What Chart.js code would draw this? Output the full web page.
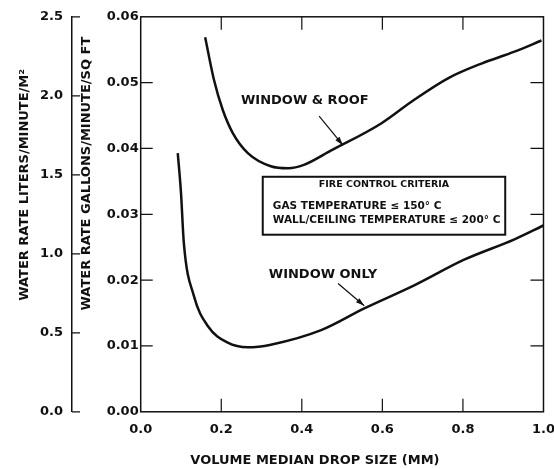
<!DOCTYPE html>
<html>
<head>
<meta charset="utf-8">
<script src="https://cdn.jsdelivr.net/npm/chart.js@4.4.1/dist/chart.umd.min.js"></script>
<style>
  html, body { margin: 0; padding: 0; background: #fff; overflow: hidden; }
  /* a bit wider than the window: the last x label is cut off at the edge, as in the scan */
  #wrap { width: 565px; height: 469px; }
</style>
</head>
<body>
<div id="wrap"><canvas id="chart1"></canvas></div>
<script>
// curves (drop size mm, gallons/minute/sq ft)
const roofX = [0.16, 0.182, 0.204, 0.229, 0.266, 0.323, 0.366, 0.405, 0.473, 0.597, 0.679, 0.764, 0.846, 0.928, 0.995];
const roofY = [0.0569, 0.0504, 0.0458, 0.0423, 0.0393, 0.0373, 0.0370, 0.0375, 0.0397, 0.0438, 0.0474, 0.0507, 0.0529, 0.0547, 0.0564];
const onlyX = [0.092, 0.100, 0.107, 0.132, 0.167, 0.216, 0.266, 0.323, 0.448, 0.555, 0.679, 0.803, 0.928, 1.0];
const onlyY = [0.0393, 0.0333, 0.0257, 0.0176, 0.0130, 0.0105, 0.0098, 0.0102, 0.0124, 0.0157, 0.0192, 0.0231, 0.0262, 0.0283];

const seriesNames = ['WINDOW & ROOF', 'WINDOW ONLY'];
const boxLines = ['FIRE CONTROL CRITERIA', 'GAS TEMPERATURE \u2264 150\u00b0 C', 'WALL/CEILING TEMPERATURE \u2264 200\u00b0 C'];

// titles sit off-centre in the original, padded with spaces to shift them
const xTitle = 'VOLUME MEDIAN DROP SIZE (MM)' + '\u00a0'.repeat(12);
const yTitle = '\u00a0'.repeat(18) + 'WATER RATE GALLONS/MINUTE/SQ FT';
const ylTitle = '\u00a0'.repeat(13) + 'WATER RATE LITERS/MINUTE/M\u00b2';

const FONT = '"DejaVu Sans", "Liberation Sans", Arial, sans-serif';

function pts(xs, ys) {
  return xs.map((v, i) => ({ x: v, y: ys[i] }));
}

function arrow(ctx, x1, y1, x2, y2) {
  const ang = Math.atan2(y2 - y1, x2 - x1);
  ctx.beginPath();
  ctx.moveTo(x1, y1);
  ctx.lineTo(x2, y2);
  ctx.stroke();
  ctx.beginPath();
  ctx.moveTo(x2, y2);
  ctx.lineTo(x2 - 9 * Math.cos(ang - 0.3), y2 - 9 * Math.sin(ang - 0.3));
  ctx.lineTo(x2 - 9 * Math.cos(ang + 0.3), y2 - 9 * Math.sin(ang + 0.3));
  ctx.closePath();
  ctx.fill();
}

// frame, inward ticks, labels and criteria box
const extras = {
  id: 'extras',
  afterDraw(chart) {
    const ctx = chart.ctx;
    const a = chart.chartArea;
    const x = chart.scales.x, y = chart.scales.y, yl = chart.scales.yl;
    const eps = 1e-9;
    ctx.save();
    ctx.strokeStyle = '#111';
    ctx.fillStyle = '#111';
    ctx.lineWidth = 1.5;
    ctx.strokeRect(a.left, a.top, a.right - a.left, a.bottom - a.top);

    ctx.lineWidth = 1.2;
    ctx.beginPath();
    x.ticks.forEach(t => {
      if (t.value <= x.min + eps || t.value >= x.max - eps) return;
      const px = x.getPixelForValue(t.value);
      ctx.moveTo(px, a.bottom); ctx.lineTo(px, a.bottom - 13);
      ctx.moveTo(px, a.top); ctx.lineTo(px, a.top + 13);
    });
    y.ticks.forEach(t => {
      if (t.value <= y.min + eps || t.value >= y.max - eps) return;
      const py = y.getPixelForValue(t.value);
      ctx.moveTo(a.left, py); ctx.lineTo(a.left + 12, py);
      ctx.moveTo(a.right, py); ctx.lineTo(a.right - 13, py);
    });
    yl.ticks.forEach(t => {
      const py = yl.getPixelForValue(t.value);
      ctx.moveTo(yl.right, py); ctx.lineTo(yl.right + 8, py);
    });
    ctx.stroke();

    // curve labels
    ctx.font = 'bold 13px ' + FONT;
    ctx.textBaseline = 'middle';
    ctx.textAlign = 'left';
    ctx.fillText(seriesNames[0], x.getPixelForValue(0.249), y.getPixelForValue(0.0472));
    ctx.fillText(seriesNames[1], x.getPixelForValue(0.318), y.getPixelForValue(0.0209));
    ctx.lineWidth = 1.2;
    arrow(ctx, x.getPixelForValue(0.443), y.getPixelForValue(0.0449), x.getPixelForValue(0.502), y.getPixelForValue(0.0405));
    arrow(ctx, x.getPixelForValue(0.490), y.getPixelForValue(0.0195), x.getPixelForValue(0.555), y.getPixelForValue(0.0161));

    // criteria box
    const bl = x.getPixelForValue(0.303), br = x.getPixelForValue(0.905);
    const bt = y.getPixelForValue(0.0357), bb = y.getPixelForValue(0.0269);
    ctx.lineWidth = 2;
    ctx.strokeRect(bl, bt, br - bl, bb - bt);
    ctx.font = 'bold 9.5px ' + FONT;
    ctx.textAlign = 'center';
    ctx.fillText(boxLines[0], x.getPixelForValue(0.604), y.getPixelForValue(0.0345));
    ctx.font = 'bold 10.5px ' + FONT;
    ctx.textAlign = 'left';
    ctx.fillText(boxLines[1], x.getPixelForValue(0.328), y.getPixelForValue(0.0312));
    ctx.fillText(boxLines[2], x.getPixelForValue(0.328), y.getPixelForValue(0.0291));
    ctx.restore();
  }
};

const tickFont = { family: FONT, size: 13, weight: 'bold' };
const titleFont = { family: FONT, size: 13, weight: 'bold' };

new Chart(document.getElementById('chart1'), {
  type: 'line',
  data: {
    datasets: [{
      label: seriesNames[0],
      data: pts(roofX, roofY),
      borderColor: '#111',
      borderWidth: 2.5,
      pointRadius: 0,
      fill: false,
      cubicInterpolationMode: 'monotone'
    }, {
      label: seriesNames[1],
      data: pts(onlyX, onlyY),
      borderColor: '#111',
      borderWidth: 2.5,
      pointRadius: 0,
      fill: false,
      cubicInterpolationMode: 'monotone'
    }]
  },
  options: {
    responsive: true,
    maintainAspectRatio: false,
    animation: false,
    layout: { autoPadding: false, padding: { top: 15, right: 0, left: 0, bottom: 0 } },
    plugins: { legend: { display: false }, tooltip: { enabled: false } },
    scales: {
      x: {
        type: 'linear',
        min: 0, max: 1,
        grid: { display: false, drawTicks: false },
        border: { display: false },
        ticks: { stepSize: 0.2, padding: 10, color: '#111', font: tickFont, callback: v => v.toFixed(1) },
        title: { display: true, text: xTitle, color: '#111', font: titleFont, padding: { top: 5, bottom: 1 } }
      },
      y: {
        position: 'left',
        weight: 0,
        min: 0, max: 0.06,
        grid: { display: false, drawTicks: false },
        border: { display: false },
        ticks: { stepSize: 0.01, padding: 2, color: '#111', font: tickFont, callback: v => v.toFixed(2) },
        title: { display: true, text: yTitle, color: '#111', font: titleFont, padding: { top: 7, bottom: 10 } }
      },
      yl: {
        position: 'left',
        weight: 1,
        min: 0, max: 2.5,
        grid: { drawOnChartArea: false, drawTicks: false },
        border: { display: true, color: '#111', width: 1.5 },
        ticks: { stepSize: 0.5, padding: 9, color: '#111', font: tickFont, callback: v => v.toFixed(1) },
        title: { display: true, text: ylTitle, color: '#111', font: titleFont, padding: { top: 17, bottom: -1.6 } }
      }
    }
  },
  plugins: [extras]
});
</script>
</body>
</html>
